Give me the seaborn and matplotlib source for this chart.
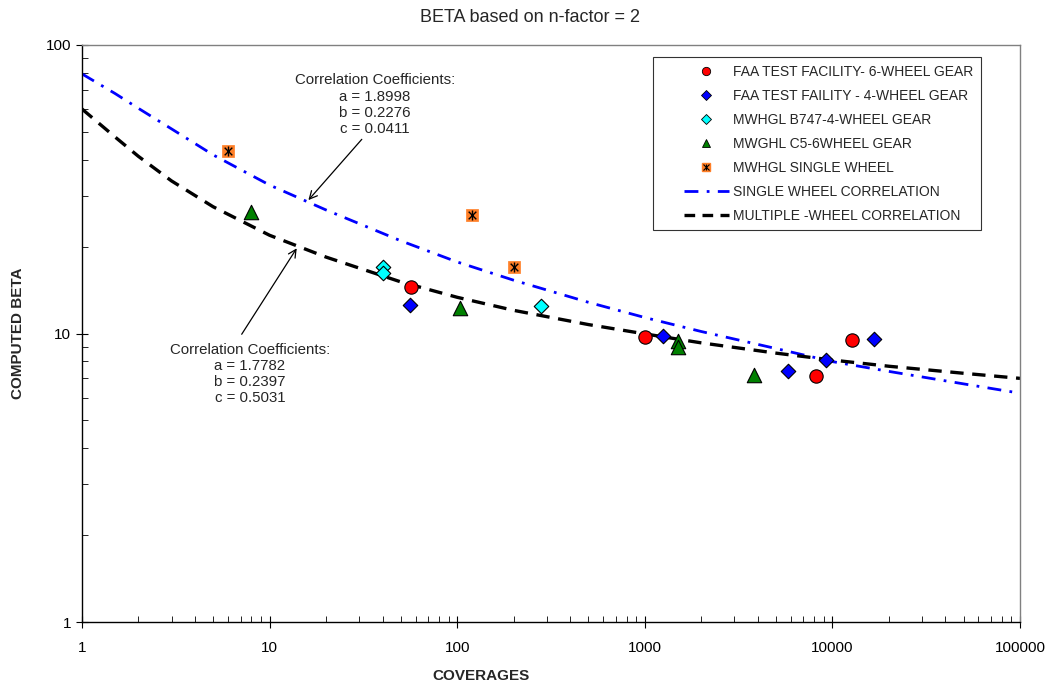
import numpy as np
import pandas as pd
import matplotlib
matplotlib.use("Agg")
import matplotlib.pyplot as plt
import seaborn as sns
from matplotlib.lines import Line2D
from matplotlib.legend_handler import HandlerLine2D, HandlerTuple
from matplotlib.ticker import FixedLocator, FuncFormatter, NullFormatter

# ---------------- data ----------------
faa6_cov = [57, 1000, 8200, 12700]
faa6_beta = [14.5, 9.7, 7.1, 9.5]

faa4_cov = [56, 1250, 5800, 9200, 16700]
faa4_beta = [12.6, 9.8, 7.4, 8.1, 9.6]

b747_cov = [40, 40, 280]
b747_beta = [17.0, 16.2, 12.5]

c5_cov = [8, 104, 1500, 1500, 3800]
c5_beta = [26.3, 12.3, 9.45, 9.0, 7.2]

sw_cov = [6, 120, 200]
sw_beta = [43.0, 25.8, 17.0]

curve_cov = [1, 1.5, 2, 3, 5, 10, 20, 50, 100, 200, 500, 1000, 2000, 5000,
             10000, 20000, 50000, 100000]
single_corr = [79.4, 67.9, 60.3, 51.2, 41.6, 32.7, 26.8, 20.96, 17.7, 15.3,
               12.83, 11.36, 10.16, 8.87, 7.99, 7.39, 6.69, 6.21]
multi_corr = [60.0, 48.0, 41.1, 33.8, 27.5, 21.9, 18.4, 15.1, 13.35, 12.03,
              10.74, 9.97, 9.28, 8.55, 8.09, 7.70, 7.28, 6.99]

labels = ["FAA TEST FACILITY- 6-WHEEL GEAR",
          "FAA TEST FAILITY - 4-WHEEL GEAR",
          "MWHGL B747-4-WHEEL GEAR",
          "MWGHL C5-6WHEEL GEAR",
          "MWHGL SINGLE WHEEL",
          "SINGLE WHEEL CORRELATION",
          "MULTIPLE -WHEEL CORRELATION"]
x_ticks = [1, 10, 100, 1000, 10000, 100000]
y_ticks = [1, 10, 100]

# ---------------- style ----------------
sns.set_theme(style="white")
plt.rcParams["font.family"] = ["Liberation Sans", "DejaVu Sans"]

RED = "#FF0000"
BLUE = "#0000FF"
CYAN = "#00FFFF"
GREEN = "#008000"
ORANGE = "#FF7F27"
SW_DASH = (0, (5, 3, 1, 3))
MW_DASH = (0, (4, 2.6))
LEG_MW_DASH = (0, (3.2, 2.2))

fig = plt.figure(figsize=(10.47, 6.85), dpi=100)
ax = fig.add_axes([82 / 1047, 1 - 622 / 685, (1020 - 82) / 1047, (622 - 45) / 685])

# correlation curves
sns.lineplot(x=curve_cov, y=single_corr, ax=ax, color=BLUE, lw=2.0,
             linestyle=SW_DASH, errorbar=None, zorder=2)
sns.lineplot(x=curve_cov, y=multi_corr, ax=ax, color="black", lw=2.4,
             linestyle=MW_DASH, errorbar=None, zorder=2)

# data points
sns.scatterplot(x=faa6_cov, y=faa6_beta, ax=ax, marker="o", s=9.6 ** 2,
                color=RED, edgecolor="black", linewidth=0.8, zorder=5, legend=False)
sns.scatterplot(x=faa4_cov, y=faa4_beta, ax=ax, marker="D", s=7.4 ** 2,
                color=BLUE, edgecolor="black", linewidth=0.8, zorder=5, legend=False)
sns.scatterplot(x=b747_cov, y=b747_beta, ax=ax, marker="D", s=7.4 ** 2,
                color=CYAN, edgecolor="black", linewidth=0.8, zorder=5, legend=False)
sns.scatterplot(x=c5_cov, y=c5_beta, ax=ax, marker="^", s=10.4 ** 2,
                color=GREEN, edgecolor="black", linewidth=0.8, zorder=5, legend=False)
sns.scatterplot(x=sw_cov, y=sw_beta, ax=ax, marker="s", s=8.2 ** 2,
                color=ORANGE, edgecolor=ORANGE, linewidth=0.5, zorder=5, legend=False)
sns.scatterplot(x=sw_cov, y=sw_beta, ax=ax, marker="x", s=5.5 ** 2,
                color="black", linewidth=1.0, zorder=6, legend=False)
sns.scatterplot(x=sw_cov, y=sw_beta, ax=ax, marker="|", s=7.0 ** 2,
                color="black", linewidth=1.0, zorder=6, legend=False)

# axes
ax.set_xscale("log")
ax.set_yscale("log")
ax.set_xlim(1, 100000)
ax.set_ylim(1, 100)
ax.xaxis.set_major_locator(FixedLocator(x_ticks))
ax.yaxis.set_major_locator(FixedLocator(y_ticks))
fmt = FuncFormatter(lambda v, p: f"{int(round(v))}")
ax.xaxis.set_major_formatter(fmt)
ax.yaxis.set_major_formatter(fmt)
minor_x = [m * 10 ** e for e in range(0, 5) for m in range(2, 10)]
minor_y = [m * 10 ** e for e in range(0, 2) for m in range(2, 10)]
ax.xaxis.set_minor_locator(FixedLocator(minor_x))
ax.yaxis.set_minor_locator(FixedLocator(minor_y))
ax.xaxis.set_minor_formatter(NullFormatter())
ax.yaxis.set_minor_formatter(NullFormatter())
ax.tick_params(which="major", direction="inout", length=8, width=0.8,
               colors="black", labelsize=11, bottom=True, left=True)
ax.tick_params(axis="x", which="major", pad=10)
ax.tick_params(axis="y", which="major", pad=4)
ax.tick_params(which="minor", direction="in", length=4, width=0.6,
               colors="black", bottom=True, left=True)
ax.set_xlabel("")
ax.set_ylabel("")
for side in ["left", "bottom"]:
    ax.spines[side].set_color("black")
    ax.spines[side].set_linewidth(1.0)
for side in ["top", "right"]:
    ax.spines[side].set_color("#808080")
    ax.spines[side].set_linewidth(1.0)

# titles / labels
fig.text(530 / 1047, 1 - 18 / 685, "BETA based on n-factor = 2", ha="center",
         va="center", fontsize=13)
fig.text(481 / 1047, 1 - 676 / 685, "COVERAGES", ha="center", va="center",
         fontsize=11, fontweight="bold")
fig.text(18 / 1047, 1 - 333 / 685, "COMPUTED BETA", ha="center", va="center",
         rotation=90, fontsize=11, fontweight="bold")

# annotations
ax.text(36.5, 79.7, "Correlation Coefficients:\na = 1.8998\nb = 0.2276\nc = 0.0411",
        ha="center", va="top", fontsize=10.8, linespacing=1.2)
ax.annotate("", xy=(16.1, 29.0), xytext=(31.0, 47.1),
            arrowprops=dict(arrowstyle="->", color="black", lw=0.9,
                            shrinkA=0, shrinkB=0, mutation_scale=14))
ax.text(7.86, 9.30, "Correlation Coefficients:\na = 1.7782\nb = 0.2397\nc = 0.5031",
        ha="center", va="top", fontsize=10.8, linespacing=1.2)
ax.annotate("", xy=(13.95, 19.74), xytext=(7.1, 9.94),
            arrowprops=dict(arrowstyle="->", color="black", lw=0.9,
                            shrinkA=0, shrinkB=0, mutation_scale=14))


# legend
class ShiftedHandler(HandlerLine2D):
    def __init__(self, frac=0.66, **kw):
        super().__init__(**kw)
        self.frac = frac

    def create_artists(self, legend, orig_handle, xdescent, ydescent, width,
                       height, fontsize, trans):
        shift = width * (1 - self.frac)
        return super().create_artists(legend, orig_handle, xdescent - shift,
                                      ydescent, width * self.frac, height,
                                      fontsize, trans)


handles = [
    Line2D([], [], ls="none", marker="o", ms=6, mfc=RED, mec="black", mew=0.6),
    Line2D([], [], ls="none", marker="D", ms=4.6, mfc=BLUE, mec="black", mew=0.6),
    Line2D([], [], ls="none", marker="D", ms=4.6, mfc=CYAN, mec="black", mew=0.6),
    Line2D([], [], ls="none", marker="^", ms=6, mfc=GREEN, mec="black", mew=0.6),
    (Line2D([], [], ls="none", marker="s", ms=5.5, mfc=ORANGE, mec=ORANGE),
     Line2D([], [], ls="none", marker="x", ms=4, mec="black", mew=0.8),
     Line2D([], [], ls="none", marker="|", ms=5, mec="black", mew=0.8)),
    Line2D([], [], color=BLUE, lw=2.0, ls=SW_DASH),
    Line2D([], [], color="black", lw=2.4, ls=LEG_MW_DASH),
]
leg = ax.legend(handles, labels, loc="upper left",
                bbox_to_anchor=((653 - 82) / 938, (622 - 57) / 577),
                borderaxespad=0, frameon=True, fancybox=False, fontsize=10,
                handlelength=4.9, handletextpad=0.3, labelspacing=0.72,
                borderpad=0.55,
                handler_map={Line2D: ShiftedHandler(frac=0.66),
                             tuple: HandlerTuple(ndivide=1, pad=0)})
leg.get_frame().set_edgecolor("black")
leg.get_frame().set_linewidth(0.8)
leg.set_zorder(10)

fig.savefig("out.png", dpi=100)
